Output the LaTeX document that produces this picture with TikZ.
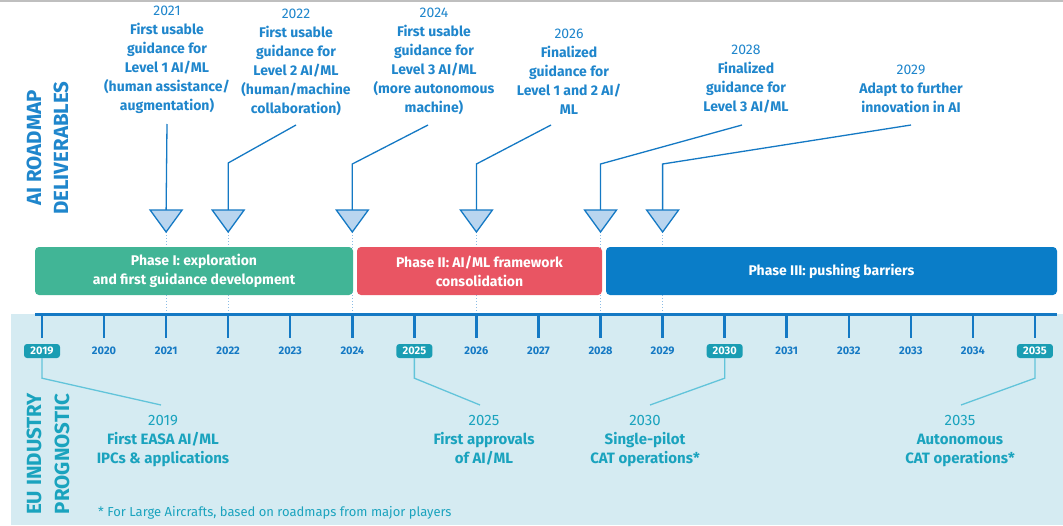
\documentclass[tikz,border=0pt]{standalone}
\usepackage{fontspec}
\setmainfont{Fira Sans}
\usetikzlibrary{calc}
\definecolor{dblue}{HTML}{1479C4}
\definecolor{tblue}{HTML}{1F86CC}
\definecolor{trifill}{HTML}{B9D5EF}
\definecolor{pgreen}{HTML}{41B596}
\definecolor{pred}{HTML}{E95563}
\definecolor{pblue}{HTML}{0A7DC8}
\definecolor{bandbg}{HTML}{D5EBF2}
\definecolor{tealtxt}{HTML}{1AA3BE}
\definecolor{hlbox}{HTML}{1A9DB3}
\definecolor{lteal}{HTML}{62C4DA}
\definecolor{dotblue}{HTML}{8CBDE6}
\tikzset{
  dlab/.style={anchor=south, align=center, inner sep=0pt, text=tblue, font=\fontsize{14}{19}\selectfont\bfseries},
  blab/.style={anchor=north, align=center, inner sep=0pt, text=tealtxt, font=\fontsize{15}{19}\selectfont\bfseries},
  conn/.style={draw=dblue, line width=1.3pt},
  bconn/.style={draw=lteal, line width=1.3pt},
  tri/.style={fill=trifill, draw=dblue, line width=1.3pt, line join=miter},
  dotl/.style={draw=dotblue, line width=1pt, dotted},
  tickmark/.style={draw=dblue, line width=2.5pt},
  axisline/.style={draw=dblue, line width=3pt},
  yearlbl/.style={text=dblue, font=\fontsize{11}{12}\selectfont\bfseries, inner sep=0pt},
  yearhl/.style={fill=hlbox, text=white, rounded corners=3pt, minimum width=36pt, minimum height=14pt, inner sep=0pt, font=\fontsize{11}{12}\selectfont\bfseries},
  phasebox/.style={rounded corners=4pt, text=white, align=center, minimum height=48pt, inner sep=0pt, font=\fontsize{14}{19}\selectfont\bfseries},
  sidetitle/.style={rotate=90, inner sep=0pt, font=\fontsize{20.5}{21}\selectfont\bfseries},
}
\begin{document}
\begin{tikzpicture}[x=1pt,y=-1pt]
\useasboundingbox (0,0) rectangle (1063,525);
\fill[white] (0,0) rectangle (1063,525);
\draw[black!25, line width=1.5pt] (0,0.75) -- (1063,0.75);
\fill[bandbg] (11,314) rectangle (1063,525);

% side titles
\node[sidetitle, text=tblue] (tA) at (34,148) {AI ROADMAP};
\node[sidetitle, text=tblue] (tB) at (61,148) {DELIVERABLES};
\node[sidetitle, text=tealtxt] (tC) at (34,454) {EU INDUSTRY};
\node[sidetitle, text=tealtxt] (tD) at (62,454) {PROGNOSTIC};

% dotted guides and triangles
\foreach \y in {2021,2022,2024,2026,2028,2029} {
  \coordinate (t\y) at ({42+62.06*(\y-2019)},210);
  \coordinate (a\y) at ({42+62.06*(\y-2019)},232);
  \coordinate (g\y) at ({42+62.06*(\y-2019)},314);
  \draw[dotl] (a\y) -- (g\y);
}

% phases
\node[phasebox, fill=pgreen, minimum width=318pt] (p1) at (194,271) {Phase I: exploration\\and first guidance development};
\node[phasebox, fill=pred, minimum width=245pt] (p2) at (479.5,271) {Phase II: AI/ML framework\\consolidation};
\node[phasebox, fill=pblue, minimum width=451pt] (p3) at (831.5,271) {Phase III: pushing barriers};

% axis
\coordinate (ax0) at (35,314);
\coordinate (ax1) at (1057,314);
\foreach \y in {2019,...,2035} {
  \coordinate (k\y) at ({42+62.06*(\y-2019)},314);
  \draw[tickmark] (k\y) -- ++(0,24);
}
\draw[axisline] (ax0) -- (ax1);
\foreach \y in {2020,2021,2022,2023,2024,2026,2027,2028,2029,2031,2032,2033,2034} {
  \node[yearlbl] (y\y) at ({42+62.06*(\y-2019)},351) {\y};
}
\foreach \y in {2019,2025,2030,2035} {
  \node[yearhl] (y\y) at ({42+62.06*(\y-2019)},351) {\y};
}

% deliverable labels
\node[dlab] (d2021) at (167,114) {{\mdseries 2021}\\First usable\\guidance for\\Level 1 AI/ML\\(human assistance/\\augmentation)};
\node[dlab] (d2022) at (296,116) {{\mdseries 2022}\\First usable\\guidance for\\Level 2 AI/ML\\(human/machine\\collaboration)};
\node[dlab] (d2024) at (434,115) {{\mdseries 2024}\\First usable\\guidance for\\Level 3 AI/ML\\(more autonomous\\machine)};
\node[dlab] (d2026) at (569,115) {{\mdseries 2026}\\Finalized\\guidance for\\Level 1 and 2 AI/\\ML};
\node[dlab] (d2028) at (746,113) {{\mdseries 2028}\\Finalized\\guidance for\\Level 3 AI/ML};
\node[dlab] (d2029) at (911,113) {{\mdseries 2029}\\Adapt to further\\innovation in AI};

% deliverable connectors
\draw[conn] ($(d2021.south)+(0,10)$) -- (t2021);
\draw[conn] ($(d2022.south)+(0,9)$) -- ([yshift=47pt]t2022) -- (t2022);
\draw[conn] ($(d2024.south)+(-6,10)$) -- ([yshift=46pt]t2024) -- (t2024);
\draw[conn] ($(d2026.south)+(-18,10)$) -- ([yshift=46pt]t2026) -- (t2026);
\draw[conn] ($(d2028.south)+(-4,12)$) -- ([yshift=46pt]t2028) -- (t2028);
\draw[conn] ($(d2029.south)+(0,12)$) -- ([yshift=46pt]t2029) -- (t2029);

\foreach \y in {2021,2022,2024,2026,2028,2029} {
  \filldraw[tri] (t\y) ++(-16,0) -- ++(32,0) -- ++(-16,22) -- cycle;
}

% industry labels
\node[blab] (b2019) at (163,415) {{\mdseries 2019}\\First EASA AI/ML\\IPCs \& applications};
\node[blab] (b2025) at (484,415) {{\mdseries 2025}\\First approvals\\of AI/ML};
\node[blab] (b2030) at (645,415) {{\mdseries 2030}\\Single-pilot\\CAT operations*};
\node[blab] (b2035) at (960,415) {{\mdseries 2035}\\Autonomous\\CAT operations*};

\draw[bconn] (y2019.south) -- ([yshift=-20pt]y2019.south) -- ($(b2019.north)+(-2,-10)$);
\draw[bconn] (y2025.south) -- ([yshift=-20pt]y2025.south) -- ($(b2025.north)+(-4,-10)$);
\draw[bconn] (y2030.south) -- ([yshift=-20pt]y2030.south) -- ($(b2030.north)+(5,-10)$);
\draw[bconn] (y2035.south) -- ([yshift=-20pt]y2035.south) -- ($(b2035.north)+(1,-10)$);

\node[anchor=west, inner sep=0pt, text=tealtxt, font=\fontsize{13}{15}\selectfont] (foot) at (98,513) {* For Large Aircrafts, based on roadmaps from major players};
\end{tikzpicture}
\end{document}
